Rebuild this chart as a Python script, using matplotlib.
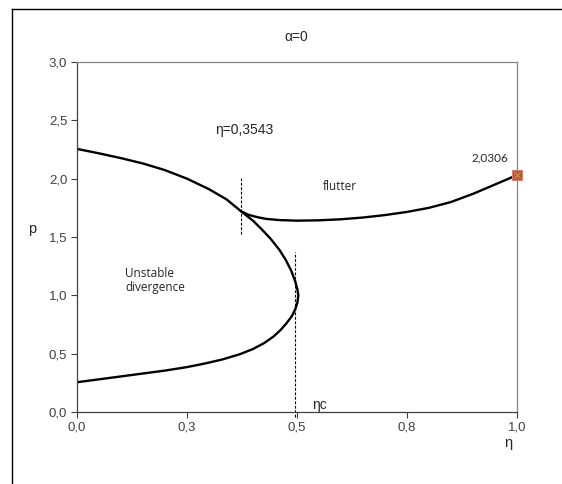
import matplotlib
matplotlib.use("Agg")
import matplotlib.pyplot as plt
from matplotlib.lines import Line2D

# ---- data (eta, p) ----
div_eta = [0.00, 0.05, 0.10, 0.15, 0.20, 0.25, 0.30, 0.34, 0.373, 0.40, 0.42, 0.44, 0.46, 0.475,
           0.487, 0.496, 0.501, 0.503, 0.501, 0.496, 0.488, 0.476, 0.462, 0.446, 0.425, 0.40, 0.37,
           0.33, 0.29, 0.25, 0.20, 0.15, 0.10, 0.05, 0.00]
div_p = [2.255, 2.217, 2.176, 2.130, 2.073, 2.000, 1.91, 1.822, 1.72, 1.64, 1.565, 1.485, 1.39, 1.30,
         1.21, 1.12, 1.05, 1.00, 0.94, 0.88, 0.82, 0.76, 0.70, 0.645, 0.59, 0.54, 0.495,
         0.45, 0.415, 0.385, 0.355, 0.33, 0.305, 0.28, 0.255]

flut_eta = [0.373, 0.39, 0.41, 0.43, 0.46, 0.50, 0.55, 0.60, 0.65, 0.70, 0.75, 0.80, 0.85, 0.90, 0.95, 1.00]
flut_p = [1.72, 1.69, 1.67, 1.655, 1.645, 1.64, 1.643, 1.652, 1.667, 1.688, 1.715, 1.75, 1.80, 1.87, 1.95, 2.0306]

end_eta = 1.0
end_p = 2.0306
end_label = "2,0306"

eta_cross = 0.373
eta_cross_label = "η=0,3543"
eta_c = 0.495

xticks = [0.0, 0.25, 0.5, 0.75, 1.0]
xtick_labels = ["0,0", "0,3", "0,5", "0,8", "1,0"]
yticks = [0.0, 0.5, 1.0, 1.5, 2.0, 2.5, 3.0]
ytick_labels = ["0,0", "0,5", "1,0", "1,5", "2,0", "2,5", "3,0"]

plt.rcParams['font.family'] = ['Liberation Sans', 'DejaVu Sans']

W, H = 562, 484
fig = plt.figure(figsize=(W / 100, H / 100), dpi=100)
ax = fig.add_axes([77 / W, 1 - 412 / H, (517 - 77) / W, (412 - 62) / H])

# outer frame (top and left lines only visible)
fig.add_artist(Line2D([12 / W, 1.0], [1 - 9 / H, 1 - 9 / H], color='black', lw=1.0,
                      transform=fig.transFigure))
fig.add_artist(Line2D([12 / W, 12 / W], [0.0, 1 - 9 / H], color='black', lw=1.0,
                      transform=fig.transFigure))

ax.plot(div_eta, div_p, color='black', lw=1.7, solid_joinstyle='round')
ax.plot(flut_eta, flut_p, color='black', lw=1.7, solid_joinstyle='round')

ax.plot([eta_cross, eta_cross], [1.53, 2.01], color='black', lw=0.8, ls=(0, (2.5, 1.5)))
ax.plot([eta_c, eta_c], [-0.04, 1.37], color='black', lw=0.8, ls=(0, (2.5, 1.5)), clip_on=False)

ax.plot([end_eta], [end_p], marker='s', ms=7.5, mfc='#C0504D', mec='#D08070', mew=0.8,
        clip_on=False, zorder=5)
ax.plot([end_eta], [end_p], marker='x', ms=4, mec='#B8A040', mew=0.8, clip_on=False, zorder=6)

ax.text(0.939, 2.18, end_label, fontsize=8.5, ha='center', va='center', color='#262626',
        family=['Lato', 'DejaVu Sans'])
ax.text(0.38, 2.42, eta_cross_label, fontsize=10, ha='center', va='center', color='#262626')
ax.text(0.598, 1.93, "flutter", fontsize=8.5, ha='center', va='center', color='#262626',
        family=['Open Sans', 'DejaVu Sans'])
ax.text(0.109, 1.13, "Unstable\ndivergence", fontsize=8.5, ha='left', va='center', color='#262626',
        family=['Open Sans', 'DejaVu Sans'], linespacing=1.1)
ax.text(0.535, 0.06, "ηc", fontsize=10, ha='left', va='center', color='#262626')

ax.set_xlim(0, 1)
ax.set_ylim(0, 3)
ax.set_xticks(xticks)
ax.set_xticklabels(xtick_labels)
ax.set_yticks(yticks)
ax.set_yticklabels(ytick_labels)
ax.tick_params(direction='out', length=4, width=0.8, colors='#404040', labelsize=9.5,
               labelcolor='#404040', pad=3)

for s in ['left', 'bottom']:
    ax.spines[s].set_color('#404040')
    ax.spines[s].set_linewidth(0.9)
for s in ['top', 'right']:
    ax.spines[s].set_color('#868686')
    ax.spines[s].set_linewidth(0.9)

fig.text(296 / W, 1 - 37 / H, "α=0", fontsize=10, ha='center', va='center', color='#262626')
fig.text(32 / W, 1 - 229 / H, "p", fontsize=10.5, ha='center', va='center', color='#262626')
fig.text(508 / W, 1 - 443 / H, "η", fontsize=10.5, ha='center', va='center', color='#262626')

fig.savefig("out.png", dpi=100)
